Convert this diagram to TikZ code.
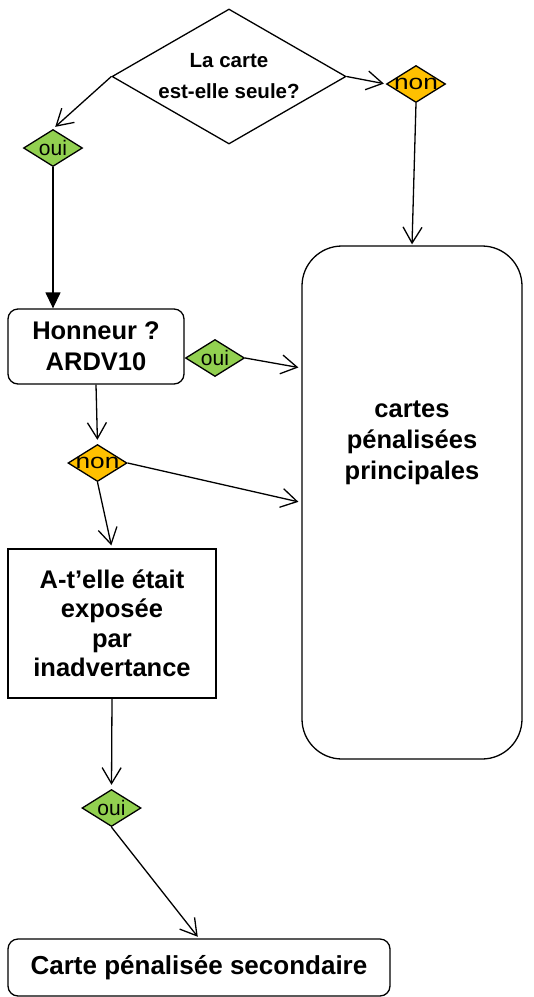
\documentclass[tikz,border=0pt]{standalone}
\usepackage{fontspec}
\setmainfont{Liberation Sans}
\usetikzlibrary{shapes.geometric,arrows.meta,calc}
\definecolor{ouigreen}{HTML}{92D050}
\definecolor{nonorange}{HTML}{FFC000}
\begin{document}
\begin{tikzpicture}[x=1pt,y=-1pt,line width=1.3pt,
  decision/.style={draw,diamond,inner sep=0pt,shape aspect=1.733,minimum width=234pt,minimum height=135pt,
    align=center,font=\fontsize{20.5}{31}\selectfont\bfseries},
  small/.style={draw,diamond,inner sep=0pt,minimum width=59pt,minimum height=37pt,
    font=\fontsize{21}{24}\selectfont},
  oui/.style={small,fill=ouigreen},
  non/.style={small,fill=nonorange},
  roundbox/.style={draw,rounded corners=10pt,inner sep=0pt,align=center,
    font=\fontsize{25}{31}\selectfont\bfseries},
  sqbox/.style={draw,inner sep=0pt,align=center,font=\fontsize{25.5}{29.5}\selectfont\bfseries},
  txt/.style={inner sep=0pt,align=center,font=\fontsize{25.5}{31}\selectfont\bfseries},
  arr/.style={-{Straight Barb[length=16pt,width=19pt]}},
  farr/.style={-{Triangle[length=16pt,width=15pt]}}]
\useasboundingbox (0,0) rectangle (534,997);

\node[decision] (q1) at (229,76.5) {\makebox[0pt]{\raisebox{-3pt}{\parbox{160pt}{\centering La carte\\est-elle seule?}}}};
\node[non] (nonA) at (416,84) {\makebox[0pt]{\scalebox{1.25}[1]{non}}};
\node[oui] (ouiA) at (53,148) {\makebox[0pt]{oui}};

\node[roundbox,minimum width=176pt,minimum height=75pt,font=\fontsize{25.5}{31}\selectfont\bfseries] (hon) at (96,346.5) {Honneur ?\\ARDV10};
\node[oui] (ouiB) at (215,358) {\makebox[0pt]{oui}};

\node[draw,rounded corners=40pt,minimum width=220pt,minimum height=513pt] (big) at (412,502.5) {};
\node[txt] (bigtxt) at (412,443) {cartes\\pénalisées\\principales};

\node[non] (nonB) at (97.5,463) {\makebox[0pt]{\scalebox{1.25}[1]{non}}};

\node[sqbox,minimum width=208pt,minimum height=149pt] (expo) at (112,623.5) {A-t’elle était\\exposée\\par\\inadvertance};

\node[oui] (ouiC) at (111.5,808) {\makebox[0pt]{oui}};

\node[roundbox,minimum width=382pt,minimum height=57pt,font=\fontsize{26}{31}\selectfont\bfseries] (sec) at (199,967.5) {Carte pénalisée secondaire};

\coordinate (b1) at ([yshift=134.5pt]big.west);

\draw[arr,shorten >=3pt] (q1.west) -- (ouiA.north);
\draw[arr,shorten >=2pt] (q1.east) -- (nonA.west);
\draw[arr,shorten >=1pt] (nonA.south) -- (big.north);
\draw[farr] (ouiA.south) -- (ouiA.south |- hon.north);
\draw[arr,shorten >=4pt] (hon.south) -- (nonB.north);
\draw[arr,shorten >=3pt] (ouiB.east) -- (b1);
\draw[arr,shorten >=3pt] (nonB.east) -- (big.west);
\draw[arr,shorten >=3pt] (nonB.south) -- (expo.north);
\draw[arr,shorten >=4pt] (expo.south) -- (ouiC.north);
\draw[arr,shorten >=2pt] (ouiC.south) -- (sec.north);
\end{tikzpicture}
\end{document}
